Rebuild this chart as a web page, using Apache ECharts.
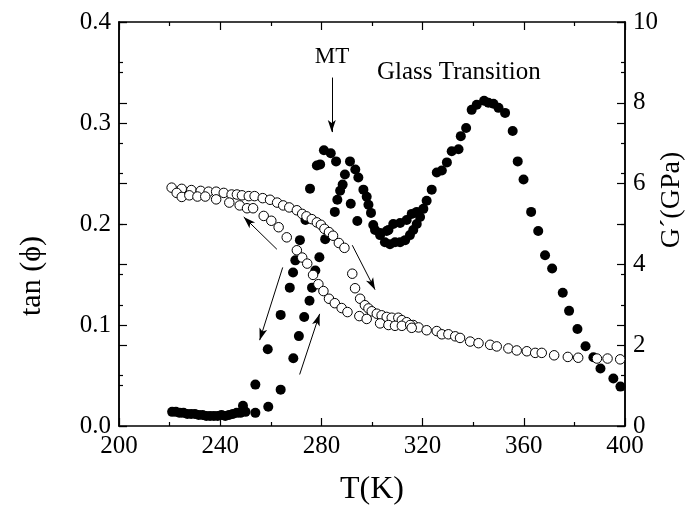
<!DOCTYPE html>
<html lang="en">
<head>
  <meta charset="UTF-8">
  <title>tan(phi) and G' vs T</title>
  <script src="https://cdn.jsdelivr.net/npm/echarts@6/dist/echarts.min.js"></script>
  <style>
    html, body { margin: 0; padding: 0; background: #fff; }
    #main { width: 696px; height: 511px; }
  </style>
</head>
<body>
<div id="main"></div>
<script>
  // tan(phi), filled circles  [T (K), tan]
  var tanHeat = [
    [221.0,0.014],[222.5,0.014],[224.0,0.013],[225.5,0.013],[227.0,0.012],[228.5,0.012],[230.0,0.012],
    [231.5,0.011],[233.0,0.011],[234.5,0.010],[236.0,0.010],[237.5,0.010],[239.0,0.010],[240.5,0.011],
    [242.0,0.010],[243.5,0.011],[245.0,0.012],[246.5,0.013],[248.0,0.013],
    [253.9,0.013],[259.0,0.019],[263.9,0.036],[268.9,0.067],[271.1,0.089],[273.2,0.108],[275.3,0.124],
    [276.3,0.137],[277.6,0.154],[279.2,0.167],[281.5,0.185],
    [285.3,0.212],[286.3,0.224],[287.4,0.233],[288.4,0.239],[289.3,0.249],[291.3,0.262],[293.4,0.254],
    [294.6,0.246],[296.6,0.234],[297.9,0.227],[298.6,0.219],[299.6,0.211],[300.5,0.199],[301.2,0.194],
    [303.2,0.189],[305.1,0.182],[307.1,0.180],[309.1,0.182],[311.1,0.182],[313.1,0.184],[315.0,0.189],
    [316.3,0.194],[317.7,0.200],[319.0,0.207],[320.3,0.215],[321.6,0.223],[323.6,0.234],[325.6,0.251],
    [327.6,0.253],[329.6,0.261],[331.5,0.272],[334.2,0.274],[335.1,0.287],[337.2,0.295],[339.4,0.313],
    [341.4,0.318],[344.3,0.322],[346.0,0.320],[348.0,0.319],[350.0,0.315],[352.6,0.310],[355.6,0.292],
    [357.6,0.262],[359.9,0.244],[362.9,0.212],[365.7,0.193],[368.4,0.169],[371.2,0.156],[375.4,0.132],
    [377.9,0.114],[381.2,0.096],[384.4,0.079],[387.5,0.068],[390.3,0.057],[395.4,0.047],[398.2,0.039]
  ];
  var tanCool = [
    [249.0,0.020],[250.0,0.014],
    [253.9,0.041],[258.8,0.076],[263.9,0.110],[267.5,0.137],[268.8,0.152],[269.7,0.164],[271.5,0.184],
    [273.7,0.204],[275.5,0.235],[278.2,0.258],[279.5,0.259],[281.0,0.273],[283.7,0.270],[285.8,0.262],
    [291.6,0.220],[294.2,0.203],
    [303.2,0.191],[305.8,0.193],[306.5,0.194],[308.4,0.200],[311.1,0.201],[313.7,0.204],[315.7,0.210],[317.7,0.212]
  ];

  // G' (GPa), open circles  [T (K), G']
  var gHeat = [
    [220.8,5.90],[224.8,5.87],[228.6,5.84],[232.3,5.82],[235.4,5.80],[238.4,5.80],[241.4,5.77],[244.5,5.73],
    [246.6,5.73],[248.6,5.71],[251.3,5.69],[253.6,5.69],[256.8,5.64],[259.7,5.60],[262.5,5.53],[264.9,5.46],
    [267.3,5.41],[270.3,5.34],[272.4,5.25],[274.1,5.19],[276.2,5.12],[278.2,5.04],[279.8,4.98],[281.2,4.88],
    [283.0,4.80],[284.6,4.71],[286.9,4.53],[289.1,4.41],
    [292.2,3.77],[293.3,3.41],[295.3,3.15],[297.2,2.99],[298.6,2.91],[299.9,2.84],[301.9,2.78],[303.8,2.74],
    [305.8,2.70],[307.8,2.68],[310.4,2.68],[311.8,2.62],[313.7,2.57],[316.3,2.50],
    [318.4,2.44],[321.6,2.37],[325.6,2.35],[327.6,2.27],[330.2,2.27],[332.9,2.22],[334.8,2.18],[338.8,2.09],
    [342.1,2.05],[346.7,2.01],[349.3,1.97],[353.9,1.92],[357.2,1.87],[361.2,1.85],[364.5,1.81],[367.1,1.81],
    [372.0,1.75],[377.4,1.71],[381.5,1.69],[388.9,1.67],[393.1,1.67],[398.1,1.65]
  ];
  var gCool = [
    [222.8,5.77],[224.8,5.67],[227.8,5.71],[231.0,5.68],[234.1,5.68],[238.4,5.61],[243.6,5.53],[247.7,5.46],
    [250.6,5.39],[253.0,5.39],[257.2,5.20],[260.2,5.08],[263.1,4.92],[266.3,4.67],[270.3,4.35],[272.4,4.17],
    [274.4,4.02],[276.7,3.74],[278.8,3.51],[280.8,3.34],[283.0,3.15],[285.3,3.04],[288.0,2.92],[290.3,2.82],
    [295.0,2.72],[297.9,2.65],[303.2,2.54],[306.5,2.50],[309.1,2.48],[311.8,2.48],[315.1,2.50],[315.7,2.43]
  ];

  // arrows [from, to] in (T, tan) units
  var arrows = [
    [[284.1,0.345],[284.1,0.291]],
    [[262.4,0.175],[249.3,0.207]],
    [[264.7,0.157],[255.6,0.085]],
    [[271.4,0.051],[279.3,0.111]],
    [[292.2,0.179],[301.2,0.135]]
  ];

  var serif = '"Liberation Serif", "DejaVu Serif", serif';
  var myChart = echarts.init(document.getElementById('main'));

  function frameAxis(pos, min, max, interval, showLabel, fmt) {
    return {
      type: 'value', position: pos, min: min, max: max, interval: interval,
      axisLine: { show: true, onZero: false, lineStyle: { color: '#000', width: 1.5 } },
      axisTick: { show: true, inside: true, length: 8, lineStyle: { color: '#000', width: 1.2 } },
      minorTick: { show: true, splitNumber: 2, length: 4, lineStyle: { color: '#000', width: 1.2 } },
      splitLine: { show: false },
      axisLabel: { show: showLabel, color: '#000', fontFamily: serif, fontSize: 25, margin: 8, formatter: fmt }
    };
  }

  var xBottom = frameAxis('bottom', 200, 400, 40, true);
  xBottom.name = 'T(K)';
  xBottom.nameLocation = 'middle';
  xBottom.nameGap = 48;
  xBottom.nameTextStyle = { color: '#000', fontFamily: serif, fontSize: 32 };

  var filled = { color: '#000', opacity: 1 };
  var open = { color: '#fff', borderColor: '#000', borderWidth: 1, opacity: 1 };

  var option = {
    animation: false,
    backgroundColor: '#fff',
    grid: { left: 119, right: 71, top: 22, bottom: 78 },
    xAxis: [xBottom, frameAxis('top', 200, 400, 40, false)],
    yAxis: [
      frameAxis('left', 0, 0.4, 0.1, true, function (v) { return v.toFixed(1); }),
      frameAxis('right', 0, 10, 2, true),
      frameAxis('right', 0, 0.4, 0.1, false),
      frameAxis('left', 0, 10, 2, false)
    ],
    graphic: [
      { type: 'text', x: 32, y: 276, rotation: Math.PI / 2,
        style: { text: 'tan (ϕ)', font: '30px ' + serif, fill: '#000', textAlign: 'center', textVerticalAlign: 'middle' } },
      { type: 'text', x: 672, y: 200, rotation: Math.PI / 2,
        style: { text: 'G´(GPa)', font: '28px ' + serif, fill: '#000', textAlign: 'center', textVerticalAlign: 'middle' } },
      { type: 'text', x: 332, y: 57,
        style: { text: 'MT', font: '23px ' + serif, fill: '#000', textAlign: 'center', textVerticalAlign: 'middle' } },
      { type: 'text', x: 377, y: 72,
        style: { text: 'Glass Transition', font: '25px ' + serif, fill: '#000', textAlign: 'left', textVerticalAlign: 'middle' } }
    ],
    series: [
      { type: 'scatter', name: 'tan heat', xAxisIndex: 0, yAxisIndex: 0, data: tanHeat,
        symbol: 'circle', symbolSize: 10, itemStyle: filled,
        markLine: {
          silent: true, symbol: ['none', 'arrow'], symbolSize: [6, 12],
          lineStyle: { color: '#000', width: 1, type: 'solid', opacity: 1 },
          label: { show: false },
          data: arrows.map(function (a) { return [{ coord: a[0] }, { coord: a[1] }]; })
        } },
      { type: 'scatter', name: 'tan cool', xAxisIndex: 0, yAxisIndex: 0, data: tanCool,
        symbol: 'circle', symbolSize: 10, itemStyle: filled },
      { type: 'scatter', name: 'G heat', xAxisIndex: 0, yAxisIndex: 1, data: gHeat,
        symbol: 'circle', symbolSize: 9.5, itemStyle: open },
      { type: 'scatter', name: 'G cool', xAxisIndex: 0, yAxisIndex: 1, data: gCool,
        symbol: 'circle', symbolSize: 9.5, itemStyle: open }
    ]
  };
  myChart.setOption(option);
</script>
</body>
</html>
